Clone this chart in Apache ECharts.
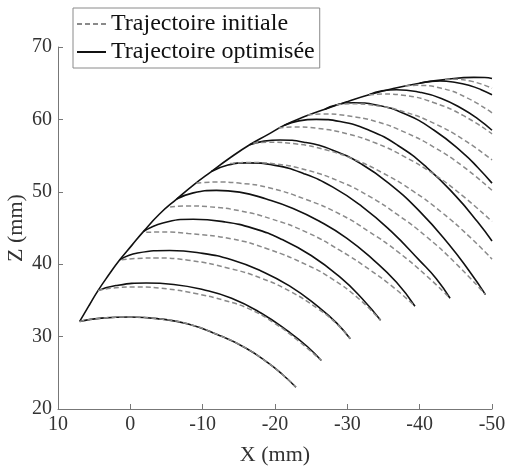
<!DOCTYPE html>
<html>
<head>
<meta charset="utf-8">
<script src="https://cdn.jsdelivr.net/npm/echarts@6/dist/echarts.min.js"></script>
<style>
html,body{margin:0;padding:0;background:#fff;}
#chart{width:505px;height:466px;}
</style>
</head>
<body>
<div id="chart"></div>
<script>
// ---- data (X mm, Z mm) ----
const seriesNames = ['Trajectoire initiale', 'Trajectoire optimisée'];
const xTicks = [10, 0, -10, -20, -30, -40, -50];
const zTicks = [20, 30, 40, 50, 60, 70];

const envelope = [[7.0,32.1],[5.7,34.3],[4.47,36.35],[3.0,38.5],[1.46,40.6],[-0.2,42.6],[-1.8,44.5],[-4.0,46.9],[-6.4,49.0],[-8.8,51.0],[-11.2,52.8],[-13.8,54.7],[-16.5,56.5],[-19.0,57.9],[-21.3,59.2],[-24.0,60.35],[-26.9,61.4],[-30.0,62.45],[-33.0,63.4],[-36.5,64.3],[-40.0,65.0],[-43.5,65.5],[-47.5,65.8],[-49.0,65.78],[-50.0,65.65]];

const optimise1 = [[7.0,32.1],[4,32.55],[0,32.7],[-4,32.45],[-8,31.75],[-12,30.3],[-16,28.4],[-19,26.4],[-21,24.8],[-22.9,23.0]];
const optimise2 = [[4.47,36.35],[2,37.05],[-2.2,37.4],[-6,37.2],[-10,36.5],[-14,35.3],[-18,33.3],[-22,30.6],[-24.5,28.6],[-26.4,26.7]];
const optimise3 = [[1.46,40.6],[-1,41.55],[-5.45,41.9],[-10,41.5],[-14,40.6],[-18,39.1],[-22,37.0],[-26,34.1],[-28.5,31.9],[-30.4,29.7]];
const optimise4 = [[-1.8,44.5],[-4.5,45.7],[-8.7,46.2],[-13,45.85],[-17,44.95],[-21,43.4],[-25,41.2],[-29,38.2],[-32,35.3],[-34.6,32.25]];
const optimise5 = [[-6.4,49.0],[-8.7,49.85],[-11.9,50.2],[-15.1,49.95],[-18.8,49.0],[-22.5,47.7],[-26.2,45.9],[-29.9,43.6],[-33.6,40.6],[-36.8,37.5],[-39.35,34.2]];
const optimise6 = [[-11.2,52.8],[-13.5,53.7],[-16.1,54.0],[-20,53.65],[-24,52.5],[-28,50.65],[-32,48.0],[-36,44.6],[-40,40.5],[-42.3,38.0],[-44.2,35.3]];
const optimise7 = [[-16.5,56.5],[-18.5,57.0],[-20.7,57.15],[-24,56.85],[-28,55.75],[-32,53.8],[-36,50.95],[-40,47.3],[-44,42.8],[-47,38.85],[-49.1,35.8]];
const optimise8 = [[-21.3,59.2],[-23.3,59.8],[-25.7,60.0],[-29,59.7],[-33,58.5],[-37,56.4],[-41,53.35],[-45,49.4],[-48,45.85],[-50,43.2]];
const optimise9 = [[-26.9,61.4],[-28.8,62.1],[-30.8,62.3],[-34,62.0],[-38,60.75],[-42,58.5],[-46,55.35],[-48,53.4],[-50,51.2]];
const optimise10 = [[-33,63.4],[-34.8,63.95],[-36.8,64.1],[-40,63.75],[-43,62.9],[-46,61.4],[-48,60.1],[-50,58.5]];
const optimise11 = [[-40,65.0],[-41.5,65.25],[-42.8,65.3],[-45,65.1],[-47,64.65],[-48.5,64.1],[-50,63.4]];

const initiale1 = [[7.0,32.1],[4,32.55],[0,32.7],[-4,32.45],[-8,31.75],[-12,30.3],[-16,28.4],[-19,26.4],[-21,24.8],[-22.9,23.0]];
const initiale2 = [[4.47,36.35],[2,36.75],[-1,36.85],[-5,36.6],[-9,35.95],[-13,35.0],[-16.5,33.8],[-20,31.8],[-23,29.6],[-26.4,26.7]];
const initiale3 = [[1.2,40.6],[-1,40.8],[-3.5,40.85],[-8,40.55],[-13.8,39.4],[-18,38.1],[-22,36.3],[-26,33.8],[-28.5,31.8],[-30.4,29.7]];
const initiale4 = [[-2.2,44.4],[-4.5,44.45],[-8,44.25],[-14,43.5],[-19,42.1],[-24.4,39.9],[-28,37.9],[-31.5,35.3],[-34.6,32.25]];
const initiale5 = [[-5.5,47.9],[-8,48.05],[-11,47.92],[-15,47.4],[-19.5,46.25],[-24.4,44.4],[-29,41.9],[-33,39.3],[-36.5,36.7],[-39.35,34.2]];
const initiale6 = [[-9.15,51.2],[-12,51.35],[-15,51.2],[-19,50.6],[-24.4,48.9],[-29,46.9],[-33,44.5],[-37,41.7],[-41,38.35],[-44.2,35.3]];
const initiale7 = [[-13.8,53.9],[-16.5,54.05],[-20,53.85],[-24.4,53.0],[-29,51.4],[-33,49.4],[-37,46.8],[-41,43.75],[-45,40.1],[-49.1,35.8]];
const initiale8 = [[-17,56.7],[-19,56.85],[-23,56.6],[-27,55.8],[-31,54.45],[-35,52.55],[-39,50.15],[-43,47.2],[-47,43.7],[-50,40.7]];
const initiale9 = [[-20.5,58.8],[-22.5,58.95],[-26,58.75],[-30,58.0],[-34,56.7],[-38,54.8],[-42,52.4],[-46,49.4],[-50,45.9]];
const initiale10 = [[-24.5,60.6],[-26.5,60.75],[-30,60.5],[-34,59.7],[-38,58.2],[-42,56.15],[-46,53.5],[-50,50.2]];
const initiale11 = [[-28.5,62.0],[-30.5,62.15],[-34,61.9],[-38,61.0],[-42,59.45],[-46,57.25],[-50,54.4]];
const initiale12 = [[-33,63.4],[-35,63.5],[-38,63.3],[-42,62.3],[-46,60.55],[-50,58.0]];
const initiale13 = [[-38,64.6],[-39.5,64.7],[-43,64.3],[-46.5,63.0],[-50,60.9]];
const initiale14 = [[-43.5,65.5],[-44.5,65.55],[-47,65.3],[-50,64.3]];

const optimisedArcs = [envelope, optimise1, optimise2, optimise3, optimise4, optimise5, optimise6, optimise7, optimise8, optimise9, optimise10, optimise11];
const initialArcs = [initiale1, initiale2, initiale3, initiale4, initiale5, initiale6, initiale7, initiale8, initiale9, initiale10, initiale11, initiale12, initiale13, initiale14];

// ---- chart ----
const FONT = '"Liberation Serif", "Times New Roman", serif';
const SOLID = '#111111';
const DASHED = '#8a8a8a';
const chart = echarts.init(document.getElementById('chart'), null, {renderer: 'canvas'});

const series = [];
optimisedArcs.forEach(function (arc) {
  series.push({
    name: seriesNames[1], type: 'line', data: arc, smooth: 0.5,
    symbol: 'none', showSymbol: false, silent: true, z: 2,
    itemStyle: {color: SOLID},
    lineStyle: {color: SOLID, width: 1.6, type: 'solid'}
  });
});
initialArcs.forEach(function (arc) {
  series.push({
    name: seriesNames[0], type: 'line', data: arc, smooth: 0.5,
    symbol: 'none', showSymbol: false, silent: true, z: 3,
    itemStyle: {color: DASHED},
    lineStyle: {color: DASHED, width: 1.5, type: [5, 3]}
  });
});

chart.setOption({
  animation: false,
  backgroundColor: '#ffffff',
  textStyle: {fontFamily: FONT},
  grid: {left: 58, right: 13, top: 47, bottom: 57, containLabel: false, outerBoundsMode: 'none'},
  legend: {
    data: seriesNames,
    orient: 'vertical', left: 73, top: 8,
    itemWidth: 29, itemHeight: 14, itemGap: 4,
    padding: [4, 5, 4, 3],
    borderColor: '#8a8a8a', borderWidth: 1, backgroundColor: '#ffffff',
    selectedMode: false,
    itemStyle: {opacity: 0},
    textStyle: {fontFamily: FONT, fontSize: 24, color: '#111111', lineHeight: 24}
  },
  xAxis: {
    type: 'value', inverse: true, min: -50, max: 10, interval: 10,
    name: 'X (mm)', nameLocation: 'middle', nameGap: 35, nameMoveOverlap: false,
    nameTextStyle: {fontFamily: FONT, fontSize: 22, color: '#333333'},
    axisLine: {show: true, onZero: false, lineStyle: {color: '#777777', width: 1}},
    axisTick: {show: true, inside: true, length: 5, lineStyle: {color: '#777777'}},
    axisLabel: {fontFamily: FONT, fontSize: 20, color: '#333333', margin: 6},
    splitLine: {show: false}
  },
  yAxis: {
    type: 'value', min: 20, max: 70, interval: 10,
    name: 'Z (mm)', nameLocation: 'middle', nameGap: 31, nameMoveOverlap: false,
    nameTextStyle: {fontFamily: FONT, fontSize: 22, color: '#333333'},
    axisLine: {show: true, onZero: false, lineStyle: {color: '#777777', width: 1}},
    axisTick: {show: true, inside: true, length: 5, lineStyle: {color: '#777777'}},
    axisLabel: {fontFamily: FONT, fontSize: 20, color: '#333333', margin: 6},
    splitLine: {show: false}
  },
  series: series
});
</script>
</body>
</html>
